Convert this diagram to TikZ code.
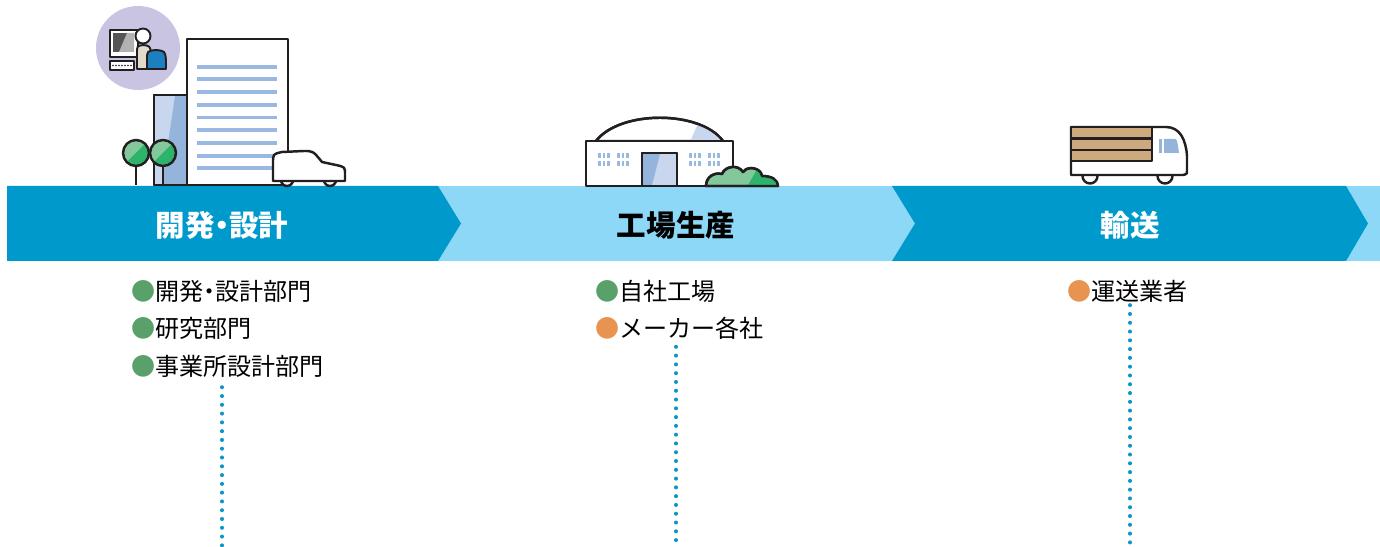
\documentclass[tikz,border=0pt]{standalone}
\usepackage{fontspec}
\usepackage{xcolor}
\newfontfamily\jp{Noto Sans CJK JP}
\definecolor{banddark}{RGB}{0, 153, 204}
\definecolor{bandlight}{RGB}{141, 215, 247}
\definecolor{ink}{RGB}{35, 31, 32}
\definecolor{lavender}{RGB}{200, 196, 226}
\definecolor{winblue}{RGB}{154, 184, 224}
\definecolor{glasslight}{RGB}{200, 214, 238}
\definecolor{glassdark}{RGB}{148, 180, 220}
\definecolor{leafdark}{RGB}{45, 179, 107}
\definecolor{leaflight}{RGB}{130, 200, 155}
\definecolor{cargotan}{RGB}{205, 170, 125}
\definecolor{screengray}{RGB}{85, 85, 85}
\definecolor{skin}{RGB}{225, 218, 205}
\definecolor{suitblue}{RGB}{30, 127, 192}
\definecolor{dotgreen}{RGB}{90, 160, 106}
\definecolor{dotorange}{RGB}{232, 148, 80}
\definecolor{dotblue}{RGB}{10, 150, 200}

% narrow nakaguro
\newcommand\jdot{\kern-.25em・\kern-.25em}

\tikzset{
  outline/.style={draw=ink, line width=1.4pt, line join=round},
  phase/.style={font=\jp\bfseries\fontsize{16.8}{19}\selectfont},
  item/.style={font=\jp\fontsize{13.7}{16}\selectfont, anchor=west, inner sep=1pt},
  dotline/.style={dotblue, line width=2.3pt, line cap=round, dash pattern=on 0pt off 5pt}
}

\begin{document}
\begin{tikzpicture}[x=0.02cm, y=-0.02cm]
\useasboundingbox (0,0) rectangle (1380,547);

% arrow band
\fill[bandlight] (438,186) rectangle (1380,261);
\fill[banddark] (7,186) -- (438,186) -- (461,223.5) -- (438,261) -- (7,261) -- cycle;
\fill[banddark] (892,186) -- (1346,186) -- (1368,223.5) -- (1346,261) -- (892,261) -- (915,223.5) -- cycle;

\node[phase, text=white] (dev) at (222,225) {開発\jdot 設計};
\node[phase, text=black] (fab) at (676,225) {工場生産};
\node[phase, text=white] (ship) at (1130,225) {輸送};

% office: engineer badge
\fill[lavender] (138,48) circle (42);
\filldraw[outline, line width=1.1pt, fill=white] (110,30) rectangle (138,57);
\fill[screengray] (113,33) rectangle (134,52);
\fill[gray!60] (127,33) -- (134,33) -- (134,52) -- (119,52) -- cycle;
\filldraw[outline, line width=1.1pt, fill=white] (110,61) rectangle (134,70);
\foreach \x in {113,116,...,131}
  \fill[ink] (\x,65.5) circle (0.8);
\filldraw[outline, line width=1.1pt, fill=skin] (137,69) -- (137,53) .. controls (137,46) .. (143,45) .. controls (150,46) .. (151,53) -- (151,69) -- cycle;
\filldraw[outline, line width=1.1pt, fill=white] (143,36) circle (7.5);
\filldraw[outline, line width=1.1pt, fill=suitblue] (147,69) -- (147,60) .. controls (147,51) .. (156,50) .. controls (165,51) .. (166,60) -- (166,69) -- cycle;

% office: buildings
\filldraw[outline, fill=glasslight] (154,95) rectangle (187,185);
\fill[glassdark] (175,96) -- (186,96) -- (186,184) -- (162,184) -- cycle;
\draw[outline] (154,95) rectangle (187,185);
\filldraw[outline, fill=white] (187,39) rectangle (288,185);
\foreach \i in {0,...,8}
  \draw[winblue, line width=2.2pt] (197,66.7+12.7*\i) -- (277,66.7+12.7*\i);

% office: trees
\foreach \tx in {136,163} {
  \draw[outline] (\tx,160) -- (\tx,185);
  \fill[leaflight] (\tx,153) circle (13);
  \fill[leafdark] (\tx,153) ++(-45:13) arc[start angle=-45, end angle=135, radius=13] -- cycle;
  \draw[outline] (\tx,153) circle (13);
}

% office: car
\filldraw[outline, fill=white] (287,180) circle (6);
\filldraw[outline, fill=white] (330,180) circle (6);
\filldraw[outline, fill=white] (273,181) -- (273,163) .. controls (273,154) .. (282,152)
  -- (304,151) .. controls (313,151) .. (322,162) -- (336,165) .. controls (345,167) .. (345,174)
  -- (345,181) -- cycle;

% factory
\filldraw[outline, fill=white] (596,141) .. controls (620,110) and (700,110) .. (723,141) -- cycle;
\begin{scope}
  \clip (596,141) .. controls (620,110) and (700,110) .. (723,141) -- cycle;
  \fill[glasslight] (690,142) -- (703,112) -- (730,112) -- (730,142) -- cycle;
\end{scope}
\draw[outline] (596,141) .. controls (620,110) and (700,110) .. (723,141);
\filldraw[outline, fill=white] (586,141) rectangle (733,186);
\foreach \gx in {598,617,689,708}
  \foreach \dx in {0,4.5,9}
    \foreach \gy in {153,161}
      \fill[winblue] (\gx+\dx,\gy) rectangle ++(2.6,5);
\filldraw[outline, fill=glasslight] (642,153) rectangle (677,186);
\fill[glassdark] (643,154) -- (660,154) -- (652,185) -- (643,185) -- cycle;
\draw[outline] (642,153) rectangle (677,186);

% factory: bush
\filldraw[outline, fill=leaflight] (706,186) .. controls (706,177) and (714,172) .. (722,174)
  .. controls (725,166) and (738,164) .. (743,172) .. controls (748,165) and (761,168) .. (762,176)
  .. controls (772,176) and (778,180) .. (778,186) -- cycle;
\begin{scope}
  \clip (706,186) .. controls (706,177) and (714,172) .. (722,174)
    .. controls (725,166) and (738,164) .. (743,172) .. controls (748,165) and (761,168) .. (762,176)
    .. controls (772,176) and (778,180) .. (778,186) -- cycle;
  \fill[leafdark] (747,187) -- (760,164) -- (780,164) -- (780,187) -- cycle;
\end{scope}
\draw[outline] (706,186) .. controls (706,177) and (714,172) .. (722,174)
  .. controls (725,166) and (738,164) .. (743,172) .. controls (748,165) and (761,168) .. (762,176)
  .. controls (772,176) and (778,180) .. (778,186) -- cycle;

% truck
\filldraw[outline, fill=white] (1090,176) circle (7.5);
\filldraw[outline, fill=white] (1165,176) circle (7.5);
\filldraw[outline, fill=white] (1071,175) -- (1071,127) -- (1166,127) .. controls (1180,127) and (1186,140) .. (1187,156)
  -- (1187,170) .. controls (1187,174) .. (1183,175) -- cycle;
\filldraw[outline, fill=cargotan] (1071,127) rectangle (1152,138.5);
\filldraw[outline, fill=cargotan] (1071,138.5) rectangle (1152,150);
\filldraw[outline, fill=cargotan] (1071,150) rectangle (1152,161);
\fill[glassdark] (1159,139) rectangle (1161.5,153);
\fill[glassdark] (1164,139) -- (1174,139) .. controls (1177,139) .. (1179,153) -- (1164,153) -- cycle;

% who does each phase
\node[item] (dev1) at (129,291) {\textcolor{dotgreen}{●}開発\jdot 設計部門};
\node[item] (dev2) at (129,328.5) {\textcolor{dotgreen}{●}研究部門};
\node[item] (dev3) at (129,366) {\textcolor{dotgreen}{●}事業所設計部門};
\node[item] (fab1) at (593,291) {\textcolor{dotgreen}{●}自社工場};
\node[item] (fab2) at (593,328.5) {\textcolor{dotorange}{●}メーカー各社};
\node[item] (ship1) at (1065,291) {\textcolor{dotorange}{●}運送業者};

\coordinate (devEnd) at (222,547);
\coordinate (fabEnd) at (676,547);
\coordinate (shipEnd) at (1130,547);
\draw[dotline] (devEnd |- dev3.south) ++(0,8) -- (devEnd);
\draw[dotline] (fabEnd |- fab2.south) ++(0,5) -- (fabEnd);
\draw[dotline] (shipEnd |- ship1.south) ++(0,1) -- (shipEnd);
\end{tikzpicture}
\end{document}
